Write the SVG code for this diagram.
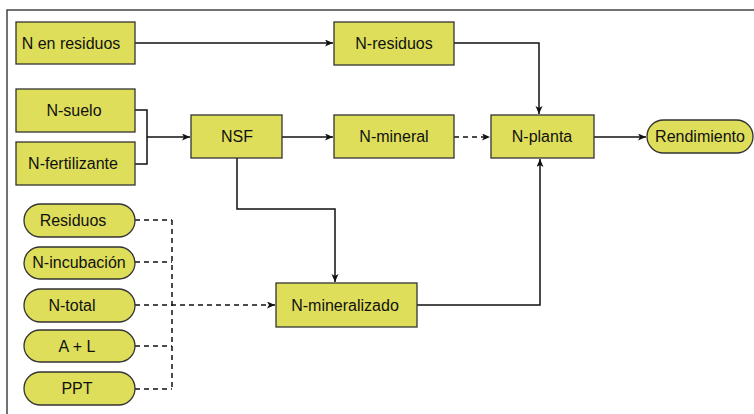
<svg xmlns="http://www.w3.org/2000/svg" width="754" height="414" viewBox="0 0 754 414">
<style>
.box{fill:#dede5a;stroke:#333;stroke-width:1.3}
.t{font-family:"Liberation Sans",Arial,sans-serif;font-size:16px;fill:#111;text-anchor:middle}
.c{fill:none;stroke:#111;stroke-width:1.5}
.d{stroke-dasharray:5,4}
.frame{fill:none;stroke:#444;stroke-width:1.5}
</style>
<defs>
<marker id="ah" markerUnits="userSpaceOnUse" markerWidth="10" markerHeight="8" refX="8" refY="3.5" orient="auto">
<path d="M0,0 L8,3.5 L0,7 L2,3.5 z" fill="#111"/>
</marker>
</defs>
<rect width="754" height="414" fill="#fff"/>
<path class="frame" d="M7,414 V10 H754"/>
<g id="connectors">
<path class="c" d="M135,43 H333" marker-end="url(#ah)"/>
<path class="c" d="M454,43 H539 V114" marker-end="url(#ah)"/>
<path class="c" d="M135,110 H147 V164 H135"/>
<path class="c" d="M147,137 H190" marker-end="url(#ah)"/>
<path class="c" d="M282,137 H333" marker-end="url(#ah)"/>
<path class="c d" d="M454,137 H490" marker-end="url(#ah)"/>
<path class="c" d="M594,137 H646" marker-end="url(#ah)"/>
<path class="c" d="M237,158 V209 H335 V282" marker-end="url(#ah)"/>
<path class="c" d="M417,305 H540 V159" marker-end="url(#ah)"/>
<path class="c d" d="M135,220 H172 M135,262 H172 M135,346 H172 M135,389 H172 M172,220 V389"/>
<path class="c d" d="M135,305 H275" marker-end="url(#ah)"/>
</g>
<g id="n-en-residuos"><rect class="box" x="16" y="22" width="119" height="42"/><text class="t" x="71" y="49">N en residuos</text></g>
<g id="n-suelo"><rect class="box" x="16" y="89" width="119" height="43"/><text class="t" x="74" y="116">N-suelo</text></g>
<g id="n-fertilizante"><rect class="box" x="16" y="142" width="119" height="43"/><text class="t" x="73" y="169">N-fertilizante</text></g>
<g id="nsf"><rect class="box" x="191" y="115" width="91" height="43"/><text class="t" x="237" y="142">NSF</text></g>
<g id="n-residuos"><rect class="box" x="334" y="22" width="120" height="43"/><text class="t" x="394" y="49">N-residuos</text></g>
<g id="n-mineral"><rect class="box" x="334" y="115" width="120" height="43"/><text class="t" x="394" y="142">N-mineral</text></g>
<g id="n-planta"><rect class="box" x="491" y="115" width="103" height="43"/><text class="t" x="542" y="142">N-planta</text></g>
<g id="rendimiento"><rect class="box" x="647" y="120" width="106" height="33" rx="16.5"/><text class="t" x="700" y="142">Rendimiento</text></g>
<g id="n-mineralizado"><rect class="box" x="276" y="283" width="141" height="44"/><text class="t" x="345" y="311">N-mineralizado</text></g>
<g id="residuos"><rect class="box" x="24" y="204" width="111" height="33" rx="16.5"/><text class="t" x="73" y="226">Residuos</text></g>
<g id="n-incubacion"><rect class="box" x="24" y="247" width="111" height="32" rx="16"/><text class="t" x="79" y="268">N-incubación</text></g>
<g id="n-total"><rect class="box" x="24" y="289" width="111" height="33" rx="16.5"/><text class="t" x="72" y="311">N-total</text></g>
<g id="a-l"><rect class="box" x="24" y="330" width="111" height="32" rx="16"/><text class="t" x="77" y="352">A + L</text></g>
<g id="ppt"><rect class="box" x="24" y="372" width="111" height="33" rx="16.5"/><text class="t" x="77" y="394">PPT</text></g>
</svg>
